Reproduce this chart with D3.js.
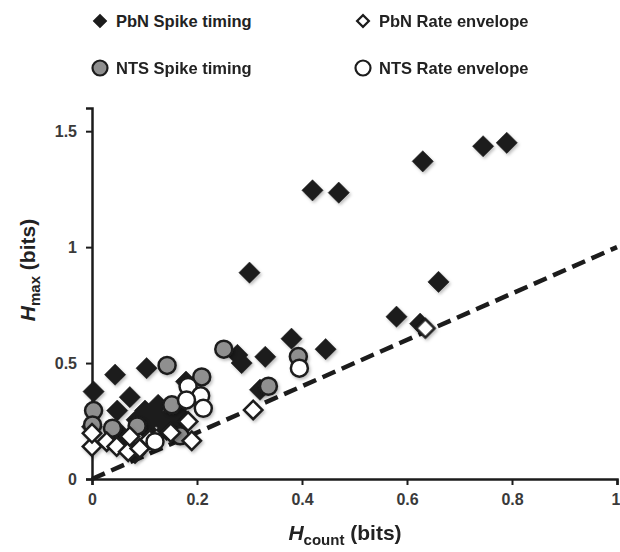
<!DOCTYPE html>
<html>
<head>
<meta charset="utf-8">
<script src="https://cdn.jsdelivr.net/npm/d3@7"></script>
<style>
  body { margin: 0; background: #fff; }
  svg text { font-family: "Liberation Sans", Arial, sans-serif; font-weight: bold; }
</style>
</head>
<body>
<div id="chart"></div>
<script>
// values: [H_count, H_max]
const pbnSpike = [
  [0.79, 1.45], [0.745, 1.435], [0.63, 1.37], [0.42, 1.245], [0.47, 1.235],
  [0.30, 0.89], [0.66, 0.85], [0.58, 0.70], [0.38, 0.605], [0.445, 0.56],
  [0.33, 0.527], [0.277, 0.535], [0.285, 0.50], [0.32, 0.385], [0.625, 0.67],
  [0.003, 0.377], [0.044, 0.45], [0.104, 0.478], [0.072, 0.353], [0.048, 0.295],
  [0.179, 0.42], [0.101, 0.295], [0.126, 0.32], [0.085, 0.255], [0.114, 0.255],
  [0.136, 0.241], [0.155, 0.226], [0.104, 0.211], [0.142, 0.211], [0.171, 0.269],
  [0.053, 0.197], [0.066, 0.147], [0.082, 0.11], [0.0, 0.225], [0.12, 0.28],
  [0.15, 0.28], [0.16, 0.30]
];
const ntsSpike = [
  [0.143, 0.49], [0.251, 0.56], [0.003, 0.295], [0.001, 0.233], [0.039, 0.219],
  [0.086, 0.229], [0.209, 0.44], [0.152, 0.32], [0.168, 0.186], [0.336, 0.40],
  [0.393, 0.528]
];
const pbnRate = [
  [0.0, 0.14], [0.028, 0.161], [0.047, 0.14], [0.069, 0.118], [0.091, 0.132],
  [0.0, 0.197], [0.072, 0.183], [0.183, 0.248], [0.19, 0.165], [0.307, 0.298],
  [0.635, 0.65], [0.11, 0.17], [0.15, 0.2]
];
const ntsRate = [
  [0.183, 0.399], [0.207, 0.359], [0.18, 0.341], [0.212, 0.305], [0.12, 0.161],
  [0.395, 0.478]
];
const xTicks = [0, 0.2, 0.4, 0.6, 0.8, 1];
const yTicks = [0, 0.5, 1, 1.5];
const legendLabels = ["PbN Spike timing", "PbN Rate envelope", "NTS Spike timing", "NTS Rate envelope"];

const width = 620;
const height = 552;
const ink = "#1c1c1c";

const svg = d3.select("#chart")
  .append("svg")
  .attr("width", width)
  .attr("height", height);

// faint shadow under the markers
const defs = svg.append("defs");
defs.append("filter")
  .attr("id", "shadow")
  .attr("x", "-50%").attr("y", "-50%").attr("width", "200%").attr("height", "200%")
  .append("feDropShadow")
  .attr("dx", 1.5).attr("dy", 2).attr("stdDeviation", 1.5)
  .attr("flood-color", "#000").attr("flood-opacity", 0.25);

const x = d3.scaleLinear().domain([0, 1]).range([92, 617]);
const y = d3.scaleLinear().domain([0, 1.6]).range([479, 108]);

// axes
const xAxis = svg.append("g")
  .attr("transform", `translate(0,${y(0)})`)
  .call(d3.axisBottom(x).tickValues(xTicks).tickFormat(d3.format("~g")).tickSize(6).tickPadding(9));
const yAxis = svg.append("g")
  .attr("transform", `translate(${x(0)},0)`)
  .call(d3.axisLeft(y).tickValues(yTicks).tickFormat(d3.format("~g")).tickSize(6).tickPadding(9));

[xAxis, yAxis].forEach(g => {
  g.select(".domain").attr("stroke", ink).attr("stroke-width", 2.5);
  g.selectAll(".tick line").attr("stroke", ink).attr("stroke-width", 2);
  g.selectAll(".tick text").attr("fill", "#3a3a3a").attr("font-size", 16);
});
// keep the last x label inside the frame
xAxis.selectAll(".tick text").filter(d => d === 1).attr("text-anchor", "end").attr("x", 3);

// identity line
svg.append("line")
  .attr("x1", x(0)).attr("y1", y(0))
  .attr("x2", x(1)).attr("y2", y(1))
  .attr("stroke", ink)
  .attr("stroke-width", 4.5)
  .attr("stroke-dasharray", "14,7");

const diamond = d3.symbol().type(d3.symbolSquare);

function diamonds(data, fill, size) {
  svg.append("g")
    .attr("filter", "url(#shadow)")
    .selectAll("path")
    .data(data)
    .join("path")
      .attr("d", diamond.size(size)())
      .attr("transform", d => `translate(${x(d[0])},${y(d[1])}) rotate(45)`)
      .attr("fill", fill)
      .attr("stroke", ink)
      .attr("stroke-width", fill === "#fff" ? 2.5 : 0.5);
}

function circles(data, fill) {
  svg.append("g")
    .attr("filter", "url(#shadow)")
    .selectAll("circle")
    .data(data)
    .join("circle")
      .attr("cx", d => x(d[0]))
      .attr("cy", d => y(d[1]))
      .attr("r", 8.5)
      .attr("fill", fill)
      .attr("stroke", ink)
      .attr("stroke-width", 2.5);
}

diamonds(pbnSpike, ink, 225);
circles(ntsSpike, "#8f8f8f");
diamonds(pbnRate, "#fff", 170);
circles(ntsRate, "#fff");

// legend
const legend = svg.append("g");
const legendPos = [[100, 21], [363, 21], [100, 68], [363, 68]];
legendLabels.forEach((label, i) => {
  const [lx, ly] = legendPos[i];
  if (i === 0 || i === 1) {
    legend.append("path")
      .attr("d", diamond.size(i === 0 ? 100 : 70)())
      .attr("transform", `translate(${lx},${ly}) rotate(45)`)
      .attr("fill", i === 0 ? ink : "#fff")
      .attr("stroke", ink)
      .attr("stroke-width", i === 0 ? 0.5 : 2.2);
  } else {
    legend.append("circle")
      .attr("cx", lx).attr("cy", ly).attr("r", 7.5)
      .attr("fill", i === 2 ? "#8f8f8f" : "#fff")
      .attr("stroke", ink)
      .attr("stroke-width", 2.2);
  }
  legend.append("text")
    .attr("x", lx + 16)
    .attr("y", ly + 6)
    .attr("font-size", 16.5)
    .attr("fill", "#222")
    .text(label);
});

// axis titles
const xTitle = svg.append("text")
  .attr("x", 345)
  .attr("y", 540)
  .attr("text-anchor", "middle")
  .attr("font-size", 21)
  .attr("fill", "#222");
xTitle.append("tspan").attr("font-style", "italic").text("H");
xTitle.append("tspan").attr("font-size", 15).attr("dy", 5).text("count");
xTitle.append("tspan").attr("dy", -5).text(" (bits)");

const yTitle = svg.append("text")
  .attr("transform", "translate(35,270) rotate(-90)")
  .attr("text-anchor", "middle")
  .attr("font-size", 21)
  .attr("fill", "#222");
yTitle.append("tspan").attr("font-style", "italic").text("H");
yTitle.append("tspan").attr("font-size", 15).attr("dy", 5).text("max");
yTitle.append("tspan").attr("dy", -5).text(" (bits)");
</script>
</body>
</html>
